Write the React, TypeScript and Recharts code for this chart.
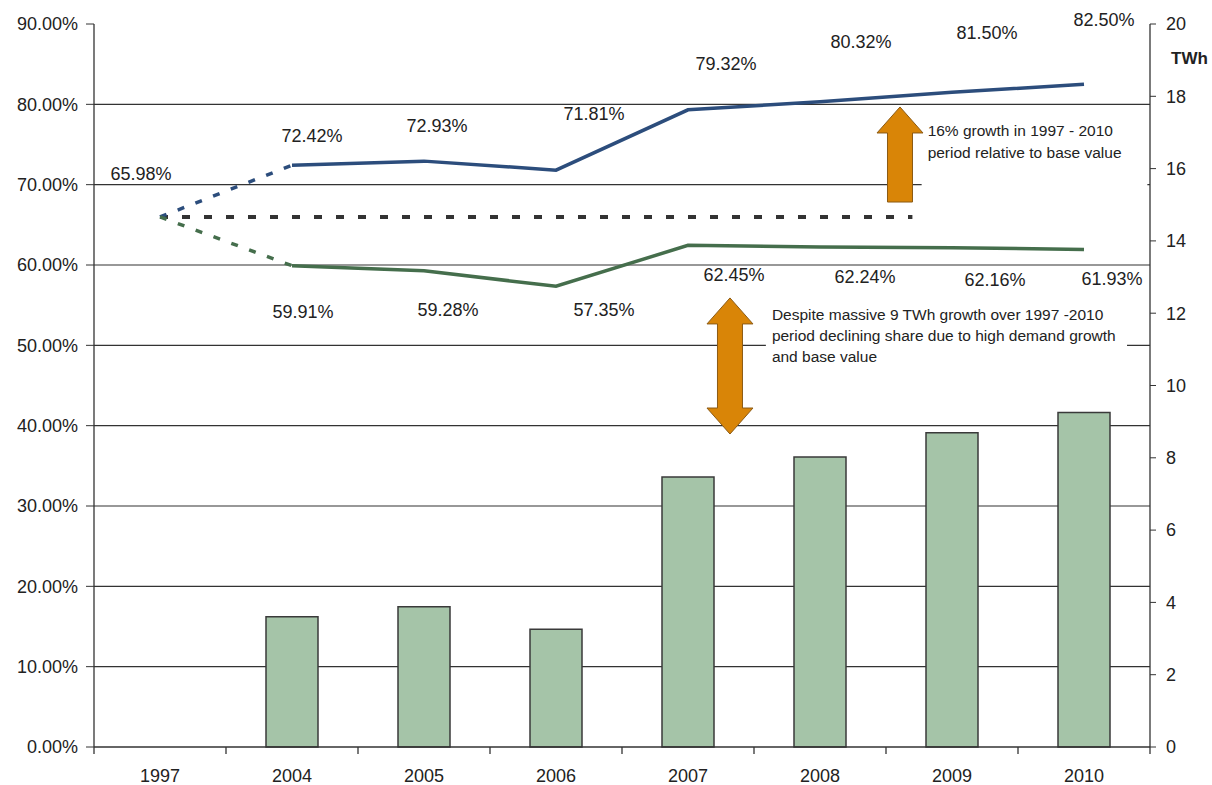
import React from 'react';
import {
  Bar,
  CartesianGrid,
  ComposedChart,
  LabelList,
  Line,
  ReferenceArea,
  ReferenceLine,
  XAxis,
  YAxis,
} from 'recharts';

// values
const years = ['1997', '2004', '2005', '2006', '2007', '2008', '2009', '2010'];
const upperShare = [65.98, 72.42, 72.93, 71.81, 79.32, 80.32, 81.5, 82.5];
const lowerShare = [65.98, 59.91, 59.28, 57.35, 62.45, 62.24, 62.16, 61.93];
const growthTWh = [null, 3.6, 3.88, 3.26, 7.47, 8.02, 8.69, 9.25];

const pctTicks = [0, 10, 20, 30, 40, 50, 60, 70, 80, 90];
const twhTicks = [0, 2, 4, 6, 8, 10, 12, 14, 16, 18, 20];
const gridPct = [10, 20, 30, 40, 50, 60, 70, 80];

const noteUp = ['16% growth in 1997 - 2010', 'period relative to base value'];
const noteDown = [
  'Despite massive 9 TWh growth over 1997 -2010',
  'period declining share due to high demand growth',
  'and base value',
];

const rows = years.map((year, i) => ({
  year,
  pos: i + 0.5,
  twh: growthTWh[i],
  upper: upperShare[i],
  lower: lowerShare[i],
  upperSolid: i >= 1 ? upperShare[i] : null,
  upperDash: i <= 1 ? upperShare[i] : null,
  lowerSolid: i >= 1 ? lowerShare[i] : null,
  lowerDash: i <= 1 ? lowerShare[i] : null,
}));

// label nudges (px), as placed by hand in the original
const upperShift = [[-19, -43], [20, -29], [13, -35], [38, -56], [38, -46], [41, -60], [35, -59], [20, -64]];
const lowerShift = [null, [11, 46], [24, 39], [48, 24], [46, 30], [45, 30], [43, 32], [28, 30]];

const TEXT = '#222';
const LINE = '#333';
const ORANGE = '#d98507';

const pctLabel = (shift: (number[] | null)[]) => (p: any) => {
  const s = shift[p.index];
  if (!s || p.value == null) return null;
  const x = p.x ?? p.viewBox?.x;
  const y = p.y ?? p.viewBox?.y;
  return (
    <text x={x + s[0]} y={y + s[1]} textAnchor="middle" dominantBaseline="central" fontSize={18} fill={TEXT}>
      {Number(p.value).toFixed(2)}%
    </text>
  );
};

function YearTick(p: any) {
  const { x, y, payload, index, visibleTicksCount } = p;
  const half = payload && payload.offset ? payload.offset : 66;
  return (
    <g>
      <line x1={x - half} x2={x - half} y1={y} y2={y + 7} stroke={LINE} strokeWidth={1.3} />
      {index === visibleTicksCount - 1 && (
        <line x1={x + half} x2={x + half} y1={y} y2={y + 7} stroke={LINE} strokeWidth={1.3} />
      )}
      <text x={x} y={y + 35} textAnchor="middle" fontSize={18} fill={TEXT}>
        {payload.value}
      </text>
    </g>
  );
}

const arrowShape = (twoHeads: boolean) => (p: any) => {
  const cx = (p.x1 + p.x2) / 2;
  const top = Math.min(p.y1, p.y2);
  const bot = Math.max(p.y1, p.y2);
  const hh = 26;
  const hw = 23;
  const sw = 12.5;
  const pts = twoHeads
    ? [
        [cx, top], [cx + hw, top + hh], [cx + sw, top + hh], [cx + sw, bot - hh], [cx + hw, bot - hh],
        [cx, bot], [cx - hw, bot - hh], [cx - sw, bot - hh], [cx - sw, top + hh], [cx - hw, top + hh],
      ]
    : [[cx, top], [cx + hw, top + hh], [cx + sw, top + hh], [cx + sw, bot], [cx - sw, bot], [cx - sw, top + hh], [cx - hw, top + hh]];
  return <polygon points={pts.map((q) => q.join(',')).join(' ')} fill={ORANGE} stroke="#8b5a14" strokeWidth={1} />;
};

const noteShape = (lines: string[], first: number, step: number) => (p: any) => (
  <g>
    <rect x={p.x} y={p.y} width={p.width} height={p.height} fill="#fff" />
    {lines.map((t, i) => (
      <text key={i} x={p.x + 6} y={p.y + first + i * step} fontSize={15.5} fill={TEXT}>
        {t}
      </text>
    ))}
  </g>
);

export default function App() {
  return (
    <div style={{ position: 'absolute', left: 0, top: 0, fontFamily: '"Liberation Sans", Arial, sans-serif' }}>
      <ComposedChart width={1212} height={785} data={rows} margin={{ top: 24, right: 6, bottom: 0, left: 14 }}>
        <CartesianGrid xAxisId="cat" yAxisId="pct" vertical={false} horizontalValues={gridPct} stroke={LINE} strokeWidth={1.2} />
        <XAxis
          xAxisId="cat"
          dataKey="year"
          height={38}
          interval={0}
          tickSize={0}
          tickMargin={0}
          tickLine={false}
          tick={<YearTick />}
          axisLine={{ stroke: LINE, strokeWidth: 1.3 }}
        />
        <XAxis xAxisId="num" dataKey="pos" type="number" domain={[0, 8]} allowDataOverflow hide />
        <YAxis
          yAxisId="pct"
          domain={[0, 90]}
          ticks={pctTicks}
          interval={0}
          width={80}
          tickSize={8}
          tickMargin={8}
          tickFormatter={(v: number) => `${v.toFixed(2)}%`}
          tick={{ fontSize: 18, fill: TEXT }}
          axisLine={{ stroke: LINE, strokeWidth: 1.3 }}
          tickLine={{ stroke: LINE }}
        />
        <YAxis
          yAxisId="twh"
          orientation="right"
          domain={[0, 20]}
          ticks={twhTicks}
          interval={0}
          width={56}
          tickSize={6}
          tickMargin={10}
          tick={{ fontSize: 18, fill: TEXT }}
          axisLine={{ stroke: LINE, strokeWidth: 1.3 }}
          tickLine={{ stroke: LINE }}
          label={{
            content: (p: any) => (
              <text x={p.viewBox.x + 21} y={p.viewBox.y + 40} fontSize={17} fontWeight="bold" fill={TEXT}>
                TWh
              </text>
            ),
          }}
        />

        <ReferenceArea xAxisId="num" yAxisId="pct" x1={6.27} x2={7.98} y1={68.7} y2={79.05} shape={noteShape(noteUp, 24.5, 22)} />
        <ReferenceArea xAxisId="num" yAxisId="pct" x1={5.09} x2={7.826} y1={47.2} y2={55.65} shape={noteShape(noteDown, 20.5, 21)} />

        <Bar xAxisId="cat" yAxisId="twh" dataKey="twh" barSize={52} fill="#a5c4a8" stroke="#3a3a3a" strokeWidth={1.5} isAnimationActive={false} />

        <ReferenceLine
          xAxisId="num"
          yAxisId="pct"
          segment={[{ x: 0.5, y: upperShare[0] }, { x: 6.2, y: upperShare[0] }]}
          stroke={LINE}
          strokeWidth={4}
          strokeDasharray="8 14"
        />

        <Line xAxisId="cat" yAxisId="pct" dataKey="upperDash" stroke="#2c4d7c" strokeWidth={3.5} strokeDasharray="7 12" dot={false} activeDot={false} isAnimationActive={false} />
        <Line xAxisId="cat" yAxisId="pct" dataKey="upperSolid" stroke="#2c4d7c" strokeWidth={3.5} dot={false} activeDot={false} isAnimationActive={false} />
        <Line xAxisId="cat" yAxisId="pct" dataKey="lowerDash" stroke="#456e4c" strokeWidth={3.5} strokeDasharray="7 12" dot={false} activeDot={false} isAnimationActive={false} />
        <Line xAxisId="cat" yAxisId="pct" dataKey="lowerSolid" stroke="#456e4c" strokeWidth={3.5} dot={false} activeDot={false} isAnimationActive={false} />

        <Line xAxisId="cat" yAxisId="pct" dataKey="upper" stroke="none" dot={false} activeDot={false} isAnimationActive={false}>
          <LabelList dataKey="upper" content={pctLabel(upperShift)} />
        </Line>
        <Line xAxisId="cat" yAxisId="pct" dataKey="lower" stroke="none" dot={false} activeDot={false} isAnimationActive={false}>
          <LabelList dataKey="lower" content={pctLabel(lowerShift)} />
        </Line>

        <ReferenceLine xAxisId="num" yAxisId="pct" segment={[{ x: 6.106, y: 67.84 }, { x: 6.106, y: 79.67 }]} shape={arrowShape(false)} />
        <ReferenceLine xAxisId="num" yAxisId="pct" segment={[{ x: 4.818, y: 38.96 }, { x: 4.818, y: 55.9 }]} shape={arrowShape(true)} />
      </ComposedChart>
    </div>
  );
}
